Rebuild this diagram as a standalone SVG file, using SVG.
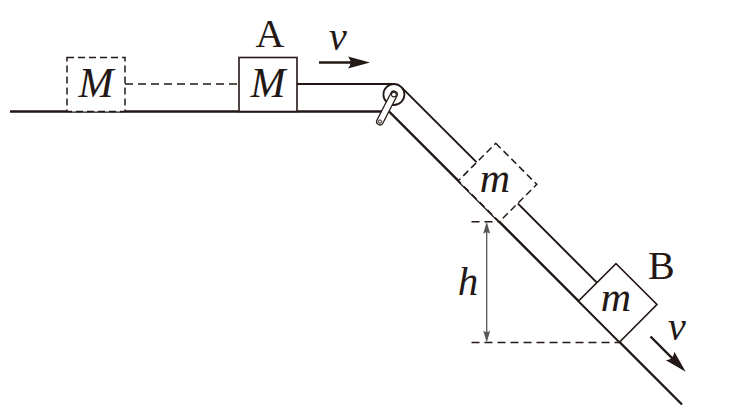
<svg xmlns="http://www.w3.org/2000/svg" width="735" height="417" viewBox="0 0 735 417">
<style>
.surf{fill:none;stroke:#231815;stroke-width:2.4}
.box{fill:#fff;stroke:#231815;stroke-width:1.6}
.ghost{fill:#fff;stroke:#231815;stroke-width:1.5;stroke-dasharray:7 4}
.rope{fill:none;stroke:#231815;stroke-width:2}
.dash{fill:none;stroke:#231815;stroke-width:1.4;stroke-dasharray:8 5}
.vel{fill:none;stroke:#231815;stroke-width:2.4}
.dim{fill:none;stroke:#595757;stroke-width:1.3}
.it{font-family:"Liberation Serif","Times New Roman",serif;font-style:italic;fill:#231815;text-anchor:middle}
.up{font-family:"Liberation Serif","Times New Roman",serif;fill:#231815;text-anchor:middle}
</style>
<defs>
<marker id="vhead" markerUnits="userSpaceOnUse" viewBox="-14 -7 26 14" markerWidth="26" markerHeight="14" refX="0" refY="0" orient="auto">
<path d="M10,0 L-12,-6 Q-7,0 -12,6 Z" fill="#231815"/>
</marker>
<marker id="dhead" markerUnits="userSpaceOnUse" viewBox="-10 -4 14 8" markerWidth="14" markerHeight="8" refX="0" refY="0" orient="auto-start-reverse">
<path d="M3,0 L-9,-3.5 Q-6,0 -9,3.5 Z" fill="#595757"/>
</marker>
</defs>

<g id="surface">
<polyline class="surf" points="10,111.5 389,111.5 682,404.5"/>
</g>

<g id="connectors">
<line class="rope" x1="297" y1="84" x2="394" y2="84"/>
<line class="rope" x1="401.3" y1="87.1" x2="476.7" y2="162.4"/>
<line class="rope" x1="517.7" y1="203.4" x2="596.9" y2="282.6"/>
<line class="dash" x1="125" y1="84" x2="239" y2="84"/>
<line class="dash" x1="471.5" y1="221.8" x2="499" y2="221.8"/>
<line class="dash" x1="471.5" y1="342.5" x2="619" y2="342.5"/>
<line class="dim" x1="486.7" y1="224.8" x2="486.7" y2="339.5" marker-start="url(#dhead)" marker-end="url(#dhead)"/>
<line class="vel" x1="319" y1="62.5" x2="360" y2="62.5" marker-end="url(#vhead)"/>
<line class="vel" x1="650.5" y1="336.5" x2="678.6" y2="364.6" marker-end="url(#vhead)"/>
</g>

<g id="ghostM">
<rect class="ghost" x="67" y="57.5" width="58" height="54"/>
<text class="it" x="96" y="96.5" font-size="42">M</text>
</g>

<g id="boxA">
<rect class="box" x="239" y="57.5" width="58" height="54"/>
<text class="it" x="268" y="96.5" font-size="42">M</text>
<text class="up" x="270" y="46.5" font-size="40">A</text>
</g>

<g id="ghostm">
<rect class="ghost" x="98" y="-53" width="58" height="53" transform="translate(389,111.5) rotate(45)"/>
<text class="it" x="495" y="191.7" font-size="42">m</text>
</g>

<g id="boxB">
<rect class="box" x="268" y="-53" width="58" height="53" transform="translate(389,111.5) rotate(45)"/>
<text class="it" x="615.8" y="311" font-size="42">m</text>
<text class="up" x="661.3" y="279.3" font-size="40">B</text>
</g>

<g id="pulley">
<circle cx="393.9" cy="94.5" r="10.5" fill="#fff" stroke="#231815" stroke-width="1.8"/>
<line x1="393.9" y1="94.5" x2="380" y2="121.5" stroke="#231815" stroke-width="8" stroke-linecap="round"/>
<line x1="393.9" y1="94.5" x2="380" y2="121.5" stroke="#fff" stroke-width="5.4" stroke-linecap="round"/>
<circle cx="393.9" cy="94.5" r="2.4" fill="#fff" stroke="#231815" stroke-width="1.1"/>
<circle cx="380" cy="121.5" r="1.6" fill="#fff" stroke="#231815" stroke-width="1"/>
</g>

<g id="labels">
<text class="it" x="338" y="50" font-size="40">v</text>
<text class="it" x="677" y="340" font-size="40">v</text>
<text class="it" x="468" y="295" font-size="41">h</text>
</g>
</svg>
